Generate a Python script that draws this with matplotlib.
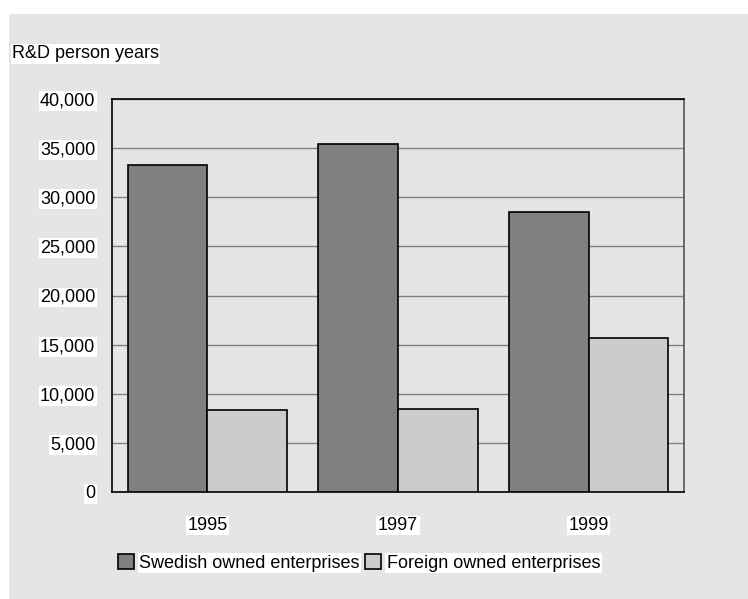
import numpy as np
import matplotlib.pyplot as plt
from matplotlib.patches import Rectangle

# R&D person years by ownership
years = ['1995', '1997', '1999']
swedish = [33300, 35400, 28500]
foreign = [8300, 8400, 15700]
yticks = [0, 5000, 10000, 15000, 20000, 25000, 30000, 35000, 40000]

plt.rcParams['font.family'] = ['Liberation Sans Narrow', 'Liberation Sans', 'DejaVu Sans']

fig = plt.figure(figsize=(7.48, 5.99), dpi=100)
fig.patches.append(Rectangle((9 / 748, 0), 1 - 9 / 748, 1 - 14 / 599,
                             transform=fig.transFigure, facecolor='#e5e5e5',
                             edgecolor='none', zorder=-10))

ax = fig.add_axes([112 / 748, 1 - 492 / 599, 572 / 748, 393 / 599])
ax.set_facecolor('#e5e5e5')

x = np.arange(len(years))
w = 0.417
ax.bar(x - w / 2, swedish, w, color='#808080', edgecolor='black', linewidth=1.2,
       label='Swedish owned enterprises', zorder=3)
ax.bar(x + w / 2, foreign, w, color='#cccccc', edgecolor='black', linewidth=1.2,
       label='Foreign owned enterprises', zorder=3)

ax.set_xlim(-0.5, 2.5)
ax.set_ylim(0, 40000)
ax.set_yticks(yticks)
ax.set_yticklabels([f'{v:,}' for v in yticks])
ax.set_xticks(x)
ax.set_xticklabels(years)
ax.tick_params(length=0, labelsize=13)
ax.tick_params(axis='y', pad=12)
ax.tick_params(axis='x', pad=18)
for lab in ax.get_xticklabels() + ax.get_yticklabels():
    lab.set_bbox(dict(facecolor='white', edgecolor='none', pad=1))

ax.yaxis.grid(True, color='#808080', linewidth=1)
ax.set_axisbelow(True)
for s in ax.spines.values():
    s.set_color('black')
    s.set_linewidth(1.2)
ax.spines['right'].set_color('#555555')

fig.text(12 / 748, 1 - 54 / 599, 'R&D person years', fontsize=13, va='center',
         ha='left', bbox=dict(facecolor='white', edgecolor='none', pad=1))

leg = fig.legend(loc='center', bbox_to_anchor=(359 / 748, 1 - 563 / 599), ncol=2,
                 frameon=False, fontsize=13, handlelength=0.9, handleheight=0.9,
                 handletextpad=0.3, columnspacing=0.3)
for t in leg.get_texts():
    t.set_bbox(dict(facecolor='white', edgecolor='none', pad=1))

fig.savefig('out.png', dpi=100)
